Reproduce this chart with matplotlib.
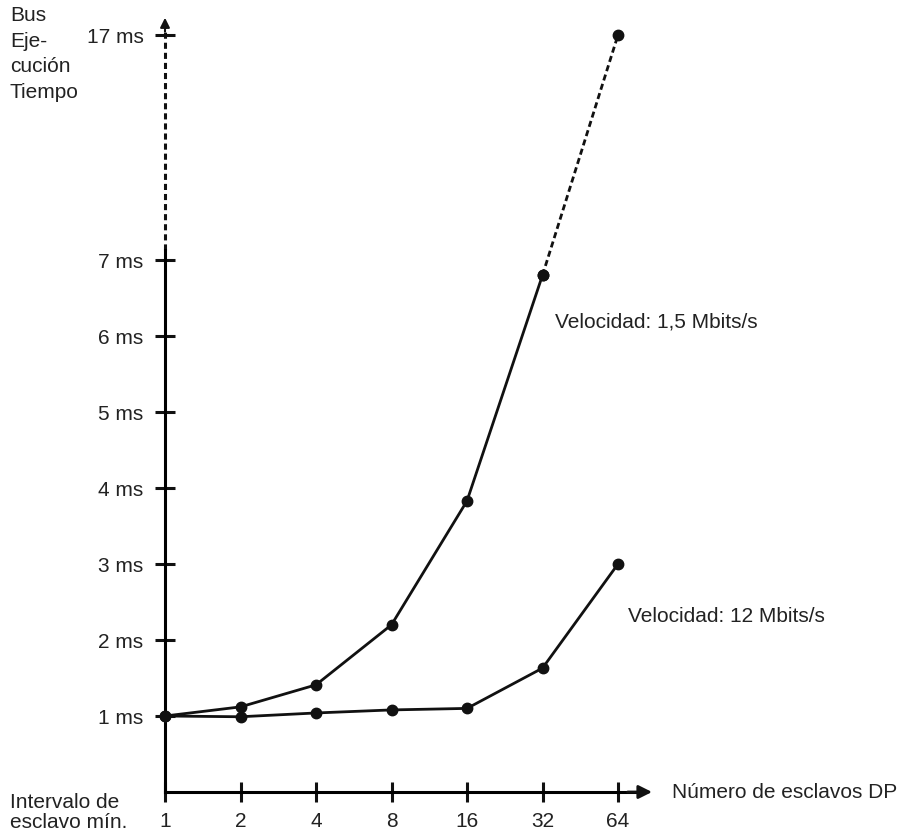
import numpy as np
import matplotlib
matplotlib.use('Agg')
import matplotlib.pyplot as plt

plt.rcParams['font.family'] = ['Liberation Sans', 'DejaVu Sans']

# datos
esclavos = [1, 2, 4, 8, 16, 32, 64]
t_15mbit = [1.0, 1.12, 1.41, 2.2, 3.83, 6.8, 17.0]
t_12mbit = [1.0, 0.99, 1.04, 1.08, 1.1, 1.63, 3.0]
y_ticks = [1, 2, 3, 4, 5, 6, 7, 17]
y_labels = ['%d ms' % v for v in y_ticks]

# eje y cortado: por encima de 7 ms la escala se comprime
R = 22.5 / 76.0


def fwd(y):
    y = np.asarray(y, dtype=float)
    return np.where(y <= 7, y, 7 + (y - 7) * R)


def inv(y):
    y = np.asarray(y, dtype=float)
    return np.where(y <= 7, y, 7 + (y - 7) / R)


W, H = 903, 833
fig = plt.figure(figsize=(W / 100, H / 100), dpi=100)
x0, x1 = 165, 652
y0, y1 = 792, 15
ax = fig.add_axes([x0 / W, (H - y0) / H, (x1 - x0) / W, (y0 - y1) / H])
ax.patch.set_visible(False)

ax.set_xscale('log', base=2)
ax.set_yscale('function', functions=(fwd, inv))
xmax = 2 ** ((x1 - x0) / 75.5)
ytop = float(inv((y0 - y1) / 76.0))
ax.set_xlim(1, xmax)
ax.set_ylim(0, ytop)

FS = 15
col = '#111111'

# 1,5 Mbits/s: continua hasta 32, discontinua hasta 64
ax.plot(esclavos[:6], t_15mbit[:6], color=col, lw=2, marker='o', ms=7.5, clip_on=False, zorder=5)
ax.plot(esclavos[5:], t_15mbit[5:], color=col, lw=2, ls=(0, (2.2, 1.3)), marker='o', ms=7.5,
        clip_on=False, zorder=5)
ax.plot(esclavos, t_12mbit, color=col, lw=2, marker='o', ms=7.5, clip_on=False, zorder=5)

# ejes
for s in ['top', 'right']:
    ax.spines[s].set_visible(False)
ax.spines['left'].set_linewidth(2.2)
ax.spines['left'].set_bounds(0, 7.45)
ax.spines['bottom'].set_linewidth(2.2)
ax.spines['bottom'].set_bounds(1, 2 ** 6.25)
ax.plot([1, 1], [7.45, ytop * 0.985], color=col, lw=2.2, ls=(0, (2, 1.3)), clip_on=False)
ax.annotate('', xy=(0, 1.0), xytext=(0, 0.975), xycoords='axes fraction',
            arrowprops=dict(arrowstyle='-|>', color=col, lw=1.5, mutation_scale=14))
ax.annotate('', xy=(1.0, 0), xytext=(0.95, 0), xycoords='axes fraction',
            arrowprops=dict(arrowstyle='-|>', color=col, lw=2, mutation_scale=20,
                            shrinkA=0, shrinkB=0))

ax.set_yticks(y_ticks)
ax.set_yticklabels(y_labels)
ax.set_xticks(esclavos)
ax.set_xticklabels([str(v) for v in esclavos])
ax.minorticks_off()
ax.tick_params(axis='both', direction='inout', length=15, width=2.2, color=col,
               labelsize=FS, labelcolor='#222222')
ax.tick_params(axis='y', pad=8)
ax.tick_params(axis='x', pad=7)

# textos
fig.text(10 / W, 1 - 6 / H, 'Bus\nEje-\ncución\nTiempo', ha='left', va='top', fontsize=FS,
         color='#222222', linespacing=1.45)
fig.text(10 / W, 1 - 832 / H, 'Intervalo de\nesclavo mín.', ha='left', va='bottom', fontsize=FS,
         color='#222222', linespacing=1.1)
fig.text(672 / W, 1 - 792 / H, 'Número de esclavos DP', ha='left', va='center', fontsize=FS,
         color='#222222')
fig.text(555 / W, 1 - 322 / H, 'Velocidad: 1,5 Mbits/s', ha='left', va='center', fontsize=FS,
         color='#222222')
fig.text(628 / W, 1 - 617 / H, 'Velocidad: 12 Mbits/s', ha='left', va='center', fontsize=FS,
         color='#222222')

fig.savefig('out.png', dpi=100, facecolor='white')
